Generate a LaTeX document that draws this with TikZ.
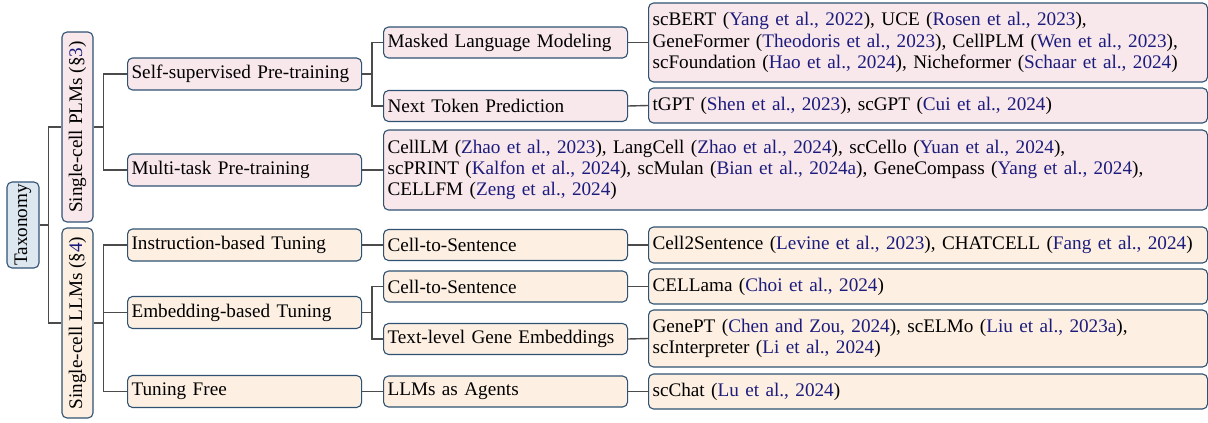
\documentclass[tikz,border=0pt]{standalone}
\usepackage{fontspec}
\setmainfont{Liberation Serif}
\definecolor{edgeblue}{RGB}{47,82,115}
\definecolor{pinkfill}{RGB}{248,231,235}
\definecolor{sandfill}{RGB}{253,240,226}
\definecolor{rootfill}{RGB}{221,231,240}
\definecolor{citeblue}{RGB}{28,28,125}
\definecolor{linkgrey}{RGB}{75,75,75}
\newcommand{\ct}[1]{\textcolor{citeblue}{#1}}
\tikzset{
  box/.style={draw=edgeblue, line width=1.1pt, rounded corners=5pt, anchor=west,
    inner xsep=4pt, inner ysep=0pt, align=left, font=\fontsize{19.2}{21.2}\selectfont},
  rbox/.style={draw=edgeblue, line width=1.1pt, rounded corners=5pt, anchor=center,
    inner sep=0pt, font=\fontsize{19.2}{21.2}\selectfont},
  lvtwo/.style={box, text width=226pt, minimum height=32pt},
  lvthree/.style={box, text width=236pt, minimum height=31pt},
  leaf/.style={box, text width=551pt},
  conn/.style={draw=linkgrey, line width=1.4pt},
}
\begin{document}
\begin{tikzpicture}[x=1pt, y=-1pt]
\useasboundingbox (0,0) rectangle (1208,423);

% root and first level
\node[rbox, fill=rootfill, minimum width=32pt, minimum height=86pt] (tax) at (23,225) {\rotatebox{90}{Taxonomy}};
\node[rbox, fill=pinkfill, minimum width=31pt, minimum height=190pt] (plm) at (77.5,127) {\rotatebox{90}{Single-cell PLMs (\S\ct{3})}};
\node[rbox, fill=sandfill, minimum width=31pt, minimum height=190pt] (llm) at (77.5,323) {\rotatebox{90}{Single-cell LLMs (\S\ct{4})}};

% second level
\node[lvtwo, fill=pinkfill] (ssp) at (127,74) {Self-supervised Pre-training};
\node[lvtwo, fill=pinkfill] (mtp) at (127,170) {Multi-task Pre-training};
\node[lvtwo, fill=sandfill] (ibt) at (127,245) {Instruction-based Tuning};
\node[lvtwo, fill=sandfill] (ebt) at (127,312.5) {Embedding-based Tuning};
\node[lvtwo, fill=sandfill] (tf) at (127,391.5) {Tuning Free};

% third level
\node[lvthree, fill=pinkfill] (mlm) at (383,42.5) {Masked Language Modeling};
\node[lvthree, fill=pinkfill] (ntp) at (383,106) {Next Token Prediction};
\node[lvthree, fill=sandfill] (cts) at (383,245) {Cell-to-Sentence};
\node[lvthree, fill=sandfill] (ctsb) at (383,286.5) {Cell-to-Sentence};
\node[lvthree, fill=sandfill] (tge) at (383,339) {Text-level Gene Embeddings};
\node[lvthree, fill=sandfill] (laa) at (383,391.5) {LLMs as Agents};

% leaves
\node[leaf, fill=pinkfill, minimum height=79pt] (mlmleaf) at (648,42.5)
  {scBERT (\ct{Yang et al., 2022}), UCE (\ct{Rosen et al., 2023}),\\
   GeneFormer (\ct{Theodoris et al., 2023}), CellPLM (\ct{Wen et al., 2023}),\\
   scFoundation (\ct{Hao et al., 2024}), Nicheformer (\ct{Schaar et al., 2024})};
\node[leaf, fill=pinkfill, minimum height=35pt] (ntpleaf) at (648,105.5)
  {tGPT (\ct{Shen et al., 2023}), scGPT (\ct{Cui et al., 2024})};
\node[box, text width=816pt, fill=pinkfill, minimum height=80pt] (mtpleaf) at (383,170)
  {CellLM (\ct{Zhao et al., 2023}), LangCell (\ct{Zhao et al., 2024}), scCello (\ct{Yuan et al., 2024}),\\
   scPRINT (\ct{Kalfon et al., 2024}), scMulan (\ct{Bian et al., 2024a}), GeneCompass (\ct{Yang et al., 2024}),\\
   CELLFM (\ct{Zeng et al., 2024})};
\node[leaf, fill=sandfill, minimum height=36pt] (ctsleaf) at (648,245)
  {Cell2Sentence (\ct{Levine et al., 2023}), CHATCELL (\ct{Fang et al., 2024})};
\node[leaf, fill=sandfill, minimum height=35pt] (ctsbleaf) at (648,286.5)
  {CELLama (\ct{Choi et al., 2024})};
\node[leaf, fill=sandfill, minimum height=57pt] (tgeleaf) at (648,338.5)
  {GenePT (\ct{Chen and Zou, 2024}), scELMo (\ct{Liu et al., 2023a}),\\
   scInterpreter (\ct{Li et al., 2024})};
\node[leaf, fill=sandfill, minimum height=35pt] (laaleaf) at (648,391.5)
  {scChat (\ct{Lu et al., 2024})};

% connectors
\draw[conn] (tax.east) -- ++(9,0) |- (plm.west);
\draw[conn] (tax.east) ++(9,0) |- (llm.west);
\draw[conn] (plm.east) -- ++(10,0) |- (ssp.west);
\draw[conn] (plm.east) ++(10,0) |- (mtp.west);
\draw[conn] (llm.east) -- ++(10,0) |- (ibt.west);
\draw[conn] (llm.east) ++(10,0) |- (ebt.west);
\draw[conn] (llm.east) ++(10,0) |- (tf.west);
\draw[conn] (ssp.east) -- ++(10,0) |- (mlm.west);
\draw[conn] (ssp.east) ++(10,0) |- (ntp.west);
\draw[conn] (ibt.east) -- (cts.west);
\draw[conn] (ebt.east) -- ++(10,0) |- (ctsb.west);
\draw[conn] (ebt.east) ++(10,0) |- (tge.west);
\draw[conn] (tf.east) -- (laa.west);
\draw[conn] (mtp.east) -- (mtpleaf.west);
\draw[conn] (mlm.east) -- (mlmleaf.west);
\draw[conn] (ntp.east) -- (ntpleaf.west);
\draw[conn] (cts.east) -- (ctsleaf.west);
\draw[conn] (ctsb.east) -- (ctsbleaf.west);
\draw[conn] (tge.east) -- (tgeleaf.west);
\draw[conn] (laa.east) -- (laaleaf.west);
\end{tikzpicture}
\end{document}
